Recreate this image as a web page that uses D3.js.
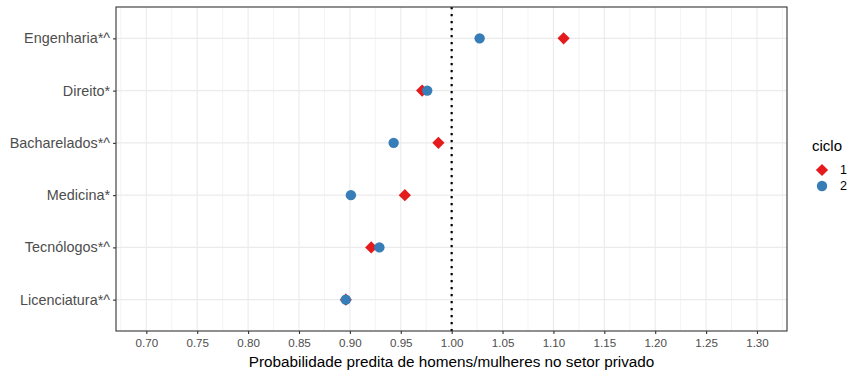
<!DOCTYPE html>
<html>
<head>
<meta charset="utf-8">
<script src="https://cdn.jsdelivr.net/npm/d3@7"></script>
<style>
  body { margin: 0; background: #fff; }
  text { font-family: "Liberation Sans", Arial, sans-serif; }
</style>
</head>
<body>
<div id="wrapper"></div>
<script>
// data
const cursos = ['Engenharia*^', 'Direito*', 'Bacharelados*^', 'Medicina*', 'Tecnólogos*^', 'Licenciatura*^']
const ciclo1 = [1.110, 0.971, 0.987, 0.954, 0.921, 0.896]
const ciclo2 = [1.0275, 0.976, 0.943, 0.901, 0.929, 0.896]
const cicloNames = ['1', '2']
const xTicks = [0.70, 0.75, 0.80, 0.85, 0.90, 0.95, 1.00, 1.05, 1.10, 1.15, 1.20, 1.25, 1.30]
const xMinor = [0.675, 0.725, 0.775, 0.825, 0.875, 0.925, 0.975, 1.025, 1.075, 1.125, 1.175, 1.225, 1.275, 1.325]

const dimensions = {
  width: 853,
  height: 372,
  margin: { top: 7, right: 66, bottom: 41, left: 116 }
}
dimensions.boundedWidth = dimensions.width - dimensions.margin.left - dimensions.margin.right
dimensions.boundedHeight = dimensions.height - dimensions.margin.top - dimensions.margin.bottom

const colors = ['#E41A1C', '#377EB8']

const xScale = d3.scaleLinear()
  .domain([0.6702, 1.3295])
  .range([0, dimensions.boundedWidth])

const yScale = d3.scalePoint()
  .domain(cursos)
  .range([0, dimensions.boundedHeight])
  .padding(0.6)

const svg = d3.select('#wrapper')
  .append('svg')
  .attr('width', dimensions.width)
  .attr('height', dimensions.height)

const bounds = svg.append('g')
  .attr('transform', `translate(${dimensions.margin.left} ${dimensions.margin.top})`)

// grid
const grid = bounds.append('g')
grid.selectAll('.minor')
  .data(xMinor)
  .enter().append('line')
  .attr('x1', d => xScale(d)).attr('x2', d => xScale(d))
  .attr('y1', 0).attr('y2', dimensions.boundedHeight)
  .attr('stroke', '#EBEBEB').attr('stroke-width', 0.6)
grid.selectAll('.major')
  .data(xTicks)
  .enter().append('line')
  .attr('x1', d => xScale(d)).attr('x2', d => xScale(d))
  .attr('y1', 0).attr('y2', dimensions.boundedHeight)
  .attr('stroke', '#EBEBEB').attr('stroke-width', 1.1)
grid.selectAll('.ymajor')
  .data(cursos)
  .enter().append('line')
  .attr('x1', 0).attr('x2', dimensions.boundedWidth)
  .attr('y1', d => yScale(d)).attr('y2', d => yScale(d))
  .attr('stroke', '#EBEBEB').attr('stroke-width', 1.1)

// reference line at 1
bounds.append('line')
  .attr('x1', xScale(1)).attr('x2', xScale(1))
  .attr('y1', 0).attr('y2', dimensions.boundedHeight)
  .attr('stroke', 'black')
  .attr('stroke-width', 2.2)
  .attr('stroke-dasharray', '2.2 4.8')

// points
const diamond = d3.symbol().type(d3.symbolSquare).size(75)
bounds.append('g')
  .selectAll('path')
  .data(cursos)
  .enter().append('path')
  .attr('d', diamond)
  .attr('transform', (d, i) => `translate(${xScale(ciclo1[i])} ${yScale(d)}) rotate(45)`)
  .attr('fill', colors[0])

bounds.append('g')
  .selectAll('circle')
  .data(cursos)
  .enter().append('circle')
  .attr('cx', (d, i) => xScale(ciclo2[i]))
  .attr('cy', d => yScale(d))
  .attr('r', 5.2)
  .attr('fill', colors[1])

// panel border
bounds.append('rect')
  .attr('width', dimensions.boundedWidth)
  .attr('height', dimensions.boundedHeight)
  .attr('fill', 'none')
  .attr('stroke', '#333333')
  .attr('stroke-width', 1.1)

// axes
const xAxis = bounds.append('g')
  .attr('transform', `translate(0 ${dimensions.boundedHeight})`)
  .call(d3.axisBottom(xScale).tickValues(xTicks).tickFormat(d3.format('.2f')).tickSize(3).tickPadding(5))
xAxis.select('.domain').remove()
xAxis.selectAll('line').attr('stroke', '#333333').attr('stroke-width', 1.1)
xAxis.selectAll('text').attr('fill', '#4D4D4D').attr('font-size', 11.6)
  .style('font-family', '"Liberation Sans", Arial, sans-serif')

const yAxis = bounds.append('g')
  .call(d3.axisLeft(yScale).tickSize(3).tickPadding(3))
yAxis.select('.domain').remove()
yAxis.selectAll('line').attr('stroke', '#333333').attr('stroke-width', 1.1)
yAxis.selectAll('text').attr('fill', '#4D4D4D').attr('font-size', 14.4)
  .style('font-family', '"Liberation Sans", Arial, sans-serif')

bounds.append('text')
  .attr('x', dimensions.boundedWidth / 2)
  .attr('y', dimensions.boundedHeight + 36)
  .attr('text-anchor', 'middle')
  .attr('font-size', 15.3)
  .attr('fill', 'black')
  .text('Probabilidade predita de homens/mulheres no setor privado')

// legend
const legend = svg.append('g')
  .attr('transform', 'translate(812 146)')
legend.append('text')
  .attr('y', 5)
  .attr('font-size', 15)
  .text('ciclo')
const items = legend.selectAll('g')
  .data(cicloNames)
  .enter().append('g')
  .attr('transform', (d, i) => `translate(10 ${24 + i * 16})`)
items.filter((d, i) => i === 0).append('path')
  .attr('d', diamond)
  .attr('transform', 'rotate(45)')
  .attr('fill', colors[0])
items.filter((d, i) => i === 1).append('circle')
  .attr('r', 5.2)
  .attr('fill', colors[1])
items.append('text')
  .attr('x', 18)
  .attr('dy', '0.35em')
  .attr('font-size', 12.5)
  .text(d => d)
</script>
</body>
</html>
